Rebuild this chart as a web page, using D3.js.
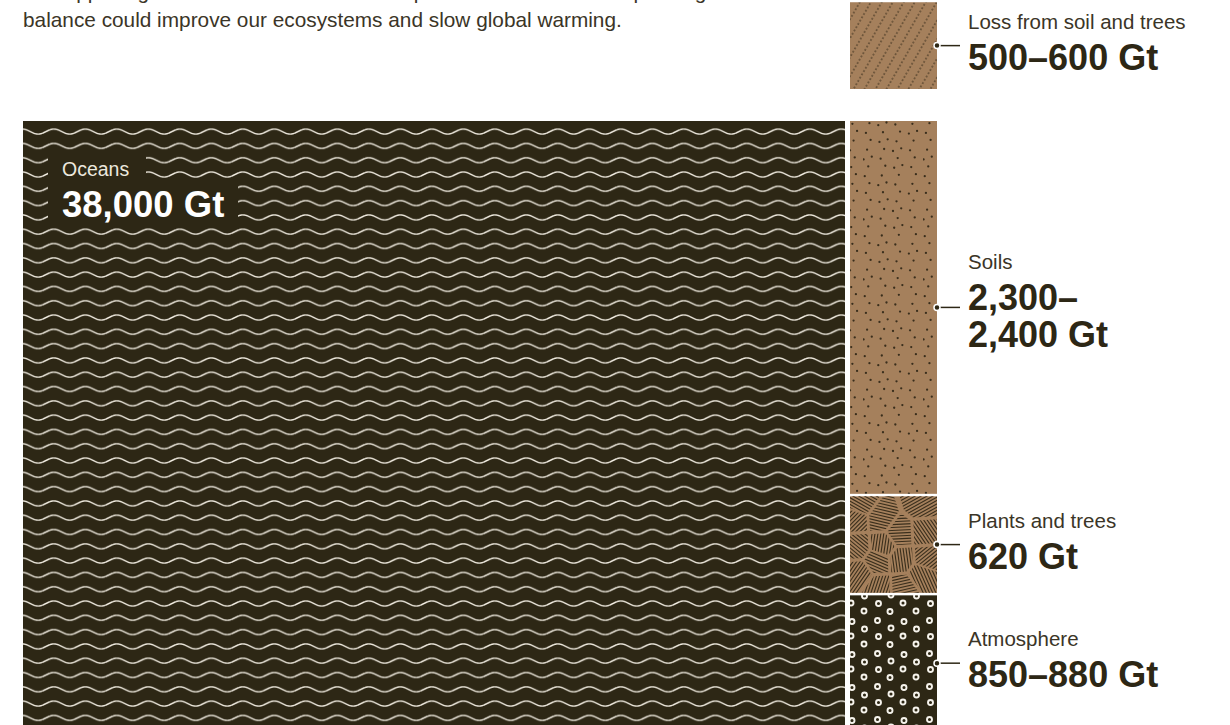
<!DOCTYPE html>
<html>
<head>
<meta charset="utf-8">
<script src="https://cdn.jsdelivr.net/npm/d3@7"></script>
<style>
  html, body { margin: 0; padding: 0; background: #ffffff; }
  svg { display: block; font-family: "Liberation Sans", Arial, Helvetica, sans-serif; }
</style>
</head>
<body>
<svg id="chart" width="1230" height="725"></svg>
<script>
// ---------- data ----------
const introLines = [
  "The opposing flows of carbon in the atmosphere and oceans are upsetting the",
  "balance could improve our ecosystems and slow global warming."
];
const categories = ["Oceans", "Soils", "Plants and trees", "Atmosphere"];
const valuesLow  = [38000, 2300, 620, 850];
const valuesHigh = [38000, 2400, 620, 880];
const valueLabels = [["38,000 Gt"], ["2,300–", "2,400 Gt"], ["620 Gt"], ["850–880 Gt"]];
const lossCategory = "Loss from soil and trees";
const lossLow = 500, lossHigh = 600;
const lossValueLabel = ["500–600 Gt"];

// ---------- style ----------
const DARK = "#2d2715";
const TAN = "#a5805c";
const SPECK = "#3a2e1c";
const TEXT = "#3b3527";

const svg = d3.select("#chart");
const defs = svg.append("defs");

// intro text
svg.append("g").selectAll("text").data(introLines).join("text")
  .attr("x", 23).attr("y", (d, i) => -1 + i * 28)
  .attr("font-size", 20.8).attr("fill", TEXT).text(d => d);

// ---------- treemap layout ----------
const mid = i => (valuesLow[i] + valuesHigh[i]) / 2;
const treeData = {
  name: "root",
  children: [
    { name: categories[0], idx: 0, value: mid(0) },
    { name: "land", children: [1, 2, 3].map(i => ({ name: categories[i], idx: i, value: mid(i) })) }
  ]
};
const root = d3.hierarchy(treeData).sum(d => d.value || 0);
const ox = 23, oy = 121, W = 914, H = 610;
const colW = 89.5;
// root: oceans fill the area left of a fixed-width land column; land column sliced by value
d3.treemap()
  .size([W, H])
  .paddingInner(2.5)
  .tile((node, x0, y0, x1, y1) => {
    if (node.depth === 0) {
      const [oc, land] = node.children;
      oc.x0 = x0; oc.x1 = x1 - colW - 2.5; oc.y0 = y0; oc.y1 = y1;
      land.x0 = x1 - colW; land.x1 = x1; land.y0 = y0; land.y1 = y1;
    } else {
      d3.treemapSlice(node, x0, y0, x1, y1);
    }
  })
  (root);

const leaves = root.leaves();
const landNode = root.children[1];
const landTotal = landNode.value;
const landPx = (landNode.y1 - landNode.y0) - 2 * 2.5;
const hScale = d3.scaleLinear().domain([0, landTotal]).range([0, landPx]);

// ---------- patterns ----------
// waves
const waveW = 31.5, waveH = 14.3, waveA = 2.5;
const wave = defs.append("pattern").attr("id", "waves")
  .attr("patternUnits", "userSpaceOnUse")
  .attr("x", ox).attr("y", 125 - waveH / 2)
  .attr("width", waveW).attr("height", waveH);
wave.append("rect").attr("width", waveW).attr("height", waveH).attr("fill", DARK);
const wavePts = d3.range(-2, waveW + 2.01, 0.5).map(t => [t, waveH / 2 - waveA * Math.sin(2 * Math.PI * t / waveW)]);
wave.append("path").attr("d", d3.line()(wavePts))
  .attr("fill", "none").attr("stroke", "#efeadf").attr("stroke-width", 1.4);

// rings (atmosphere)
const ringTile = [52, 33];
const ringPos = [[6.5, 4.5], [33, 5.5], [20, 12], [45.5, 13], [7.5, 20.5], [32, 20], [19, 28.5], [45, 28]];
const rings = defs.append("pattern").attr("id", "rings")
  .attr("patternUnits", "userSpaceOnUse").attr("x", 848).attr("y", 594)
  .attr("width", ringTile[0]).attr("height", ringTile[1]);
rings.append("rect").attr("width", ringTile[0]).attr("height", ringTile[1]).attr("fill", DARK);
rings.selectAll("circle").data(ringPos).join("circle")
  .attr("cx", d => d[0]).attr("cy", d => d[1]).attr("r", 2.5)
  .attr("fill", "none").attr("stroke", "#f6f3ec").attr("stroke-width", 1.9);

// speckles (soils)
const speckTile = 60;
const speckPts = d3.range(34).map(i => [
  ((0.5 + i * 0.7548776662) % 1) * speckTile,
  ((0.5 + i * 0.5698402910) % 1) * speckTile
]);
const speck = defs.append("pattern").attr("id", "speck")
  .attr("patternUnits", "userSpaceOnUse").attr("width", speckTile).attr("height", speckTile);
speck.append("rect").attr("width", speckTile).attr("height", speckTile).attr("fill", TAN);
speck.selectAll("circle").data(speckPts).join("circle")
  .attr("cx", d => d[0]).attr("cy", d => d[1]).attr("r", 1.15).attr("fill", SPECK);

// dotted diagonals (loss)
const dd = defs.append("pattern").attr("id", "diag")
  .attr("patternUnits", "userSpaceOnUse").attr("width", 9.5).attr("height", 3.8)
  .attr("patternTransform", "rotate(30)");
dd.append("rect").attr("width", 9.5).attr("height", 3.8).attr("fill", TAN);
dd.append("circle").attr("cx", 4.75).attr("cy", 1.9).attr("r", 0.8).attr("fill", SPECK);

// ---------- draw blocks ----------
const g = svg.append("g").attr("transform", `translate(${ox},${oy})`);
const fills = ["url(#waves)", "url(#speck)", TAN, "url(#rings)"];
g.selectAll("rect.block").data(leaves).join("rect").attr("class", "block")
  .attr("x", d => d.x0).attr("y", d => d.y0)
  .attr("width", d => d.x1 - d.x0).attr("height", d => d.y1 - d.y0)
  .attr("fill", d => fills[d.data.idx]);

// plants hatch mosaic
const plant = leaves.find(d => d.data.idx === 2);
const px0 = plant.x0 + ox, py0 = plant.y0 + oy, px1 = plant.x1 + ox, py1 = plant.y1 + oy;
defs.append("clipPath").attr("id", "plantClip").append("rect")
  .attr("x", px0).attr("y", py0).attr("width", px1 - px0).attr("height", py1 - py0);
const seeds = d3.range(15).map(i => [
  px0 + ((0.31 + i * 0.7548776662) % 1) * (px1 - px0),
  py0 + ((0.67 + i * 0.5698402910) % 1) * (py1 - py0)
]);
const vor = d3.Delaunay.from(seeds).voronoi([px0 - 4, py0 - 4, px1 + 4, py1 + 4]);
const hatch = svg.append("g").attr("clip-path", "url(#plantClip)");
seeds.forEach((s, i) => {
  const poly = vor.cellPolygon(i);
  if (!poly) return;
  const id = "pc" + i;
  const shrunk = poly.map(p => [s[0] + (p[0] - s[0]) * 0.88, s[1] + (p[1] - s[1]) * 0.88]);
  defs.append("clipPath").attr("id", id).append("path").attr("d", "M" + shrunk.join("L") + "Z");
  const ang = ((i * 0.618034 + 0.13) % 1) * Math.PI;
  const dx = Math.cos(ang), dy = Math.sin(ang);
  const cg = hatch.append("g").attr("clip-path", `url(#${id})`);
  d3.range(-14, 15).forEach(k => {
    const cx = s[0] - dy * k * 2.9, cy = s[1] + dx * k * 2.9;
    cg.append("line")
      .attr("x1", cx - dx * 50).attr("y1", cy - dy * 50)
      .attr("x2", cx + dx * 50).attr("y2", cy + dy * 50)
      .attr("stroke", SPECK).attr("stroke-width", 1.1);
  });
});

// loss box above the land column
const colX0 = landNode.x0 + ox, colX1 = landNode.x1 + ox;
const lossH = hScale((lossLow + lossHigh) / 2);
const lossBottom = oy - 32;
svg.append("rect")
  .attr("x", colX0).attr("y", lossBottom - lossH)
  .attr("width", colX1 - colX0).attr("height", lossH)
  .attr("fill", "url(#diag)");

// ---------- oceans label ----------
const ocean = leaves.find(d => d.data.idx === 0);
const olx = ocean.x0 + ox, oly = ocean.y0 + oy;
svg.append("rect").attr("x", olx + 25).attr("y", oly + 31).attr("width", 98).attr("height", 32).attr("fill", DARK);
svg.append("rect").attr("x", olx + 25).attr("y", oly + 62).attr("width", 190).attr("height", 43).attr("fill", DARK);
svg.append("text").attr("x", olx + 39).attr("y", oly + 55)
  .attr("font-size", 19.5).attr("fill", "#ece8de").text(categories[0]);
svg.append("text").attr("x", olx + 39).attr("y", oly + 96)
  .attr("font-size", 36.5).attr("font-weight", "bold").attr("fill", "#ffffff").text(valueLabels[0][0]);

// ---------- right labels ----------
const labelItems = [
  { name: lossCategory, lines: lossValueLabel, cy: lossBottom - lossH / 2 },
  ...[1, 2, 3].map(i => {
    const n = leaves.find(d => d.data.idx === i);
    return { name: categories[i], lines: valueLabels[i], cy: (n.y0 + n.y1) / 2 + oy };
  })
];
const lab = svg.append("g").selectAll("g").data(labelItems).join("g");
lab.append("line")
  .attr("x1", colX1).attr("x2", colX1 + 23)
  .attr("y1", d => d.cy).attr("y2", d => d.cy)
  .attr("stroke", DARK).attr("stroke-width", 1.5);
lab.append("circle")
  .attr("cx", colX1).attr("cy", d => d.cy).attr("r", 3)
  .attr("fill", DARK).attr("stroke", "#ffffff").attr("stroke-width", 1.5);
lab.append("text")
  .attr("x", colX1 + 31)
  .attr("y", d => d.cy - 17 - (d.lines.length - 1) * 21)
  .attr("font-size", 20.5).attr("fill", TEXT).text(d => d.name);
lab.each(function (d) {
  d3.select(this).selectAll("text.v").data(d.lines).join("text").attr("class", "v")
    .attr("x", colX1 + 31)
    .attr("y", (t, j) => d.cy + 24 - (d.lines.length - 1) * 21 + j * 37)
    .attr("font-size", 36).attr("font-weight", "bold").attr("fill", DARK).text(t => t);
});
</script>
</body>
</html>
